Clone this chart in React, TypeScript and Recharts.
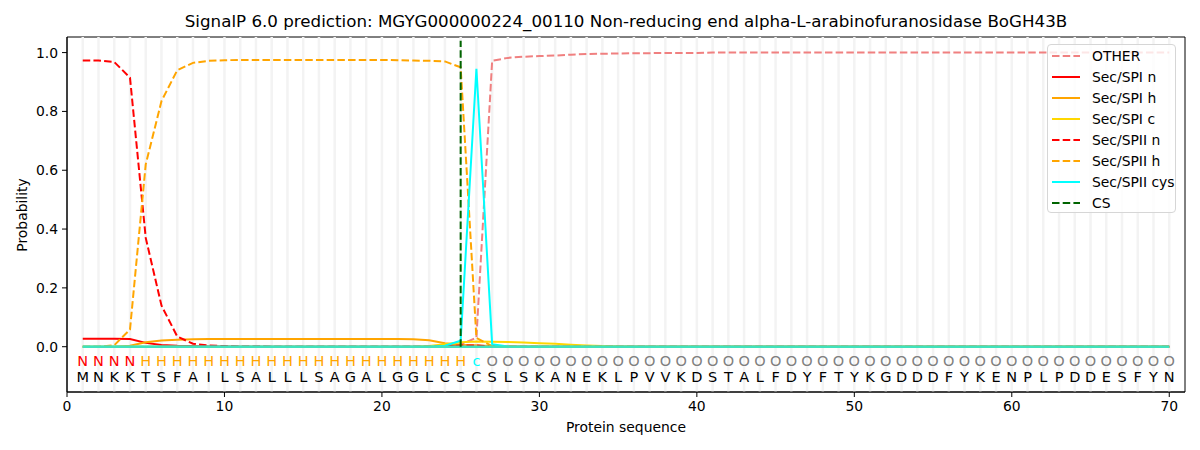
import React from 'react';
import {
  ComposedChart, Line, Scatter, XAxis, YAxis, ReferenceLine, ReferenceArea,
} from 'recharts';

// residue sequence and predicted region label per position
const SEQUENCE = 'MNKKTSFAILSALLLSAGALGGLCSCSLSKANEKLPVVKDSTALFDYFTYKGDDDFYKENPLPDDESFYN';
const REGION_LABELS = 'N'.repeat(4) + 'H'.repeat(21) + 'c' + 'O'.repeat(44);
const CS_POSITION = 25;

const xTicks = [0, 10, 20, 30, 40, 50, 60, 70];
const yTicks = [0, 0.2, 0.4, 0.6, 0.8, 1.0];

const otherVals = [
  0, 0, 0, 0, 0, 0, 0, 0, 0, 0,
  0, 0, 0, 0, 0, 0, 0, 0, 0, 0,
  0, 0, 0, 0, 0.008, 0.03, 0.972, 0.982, 0.986, 0.988,
  0.99, 0.993, 0.995, 0.996, 0.997, 0.998, 0.998, 0.999, 0.999, 0.999,
  1, 1, 1, 1, 1, 1, 1, 1, 1, 1,
  1, 1, 1, 1, 1, 1, 1, 1, 1, 1,
  1, 1, 1, 1, 1, 1, 1, 1, 1, 1,
];
const spiN = [
  0.027, 0.027, 0.027, 0.026, 0.013, 0.006, 0.003, 0.002, 0.001, 0.001,
  0, 0, 0, 0, 0, 0, 0, 0, 0, 0,
  0, 0, 0, 0.002, 0.004, 0.003, 0.001, 0, 0, 0,
  0, 0, 0, 0, 0, 0, 0, 0, 0, 0,
  0, 0, 0, 0, 0, 0, 0, 0, 0, 0,
  0, 0, 0, 0, 0, 0, 0, 0, 0, 0,
  0, 0, 0, 0, 0, 0, 0, 0, 0, 0,
];
const spiH = [
  0, 0, 0, 0.003, 0.015, 0.021, 0.024, 0.025, 0.026, 0.026,
  0.026, 0.026, 0.026, 0.026, 0.026, 0.026, 0.026, 0.026, 0.026, 0.026,
  0.026, 0.025, 0.022, 0.012, 0.006, 0.004, 0.002, 0.001, 0, 0,
  0, 0, 0, 0, 0, 0, 0, 0, 0, 0,
  0, 0, 0, 0, 0, 0, 0, 0, 0, 0,
  0, 0, 0, 0, 0, 0, 0, 0, 0, 0,
  0, 0, 0, 0, 0, 0, 0, 0, 0, 0,
];
const spiC = [
  0, 0, 0, 0, 0, 0, 0, 0, 0, 0,
  0, 0, 0, 0, 0, 0, 0, 0, 0, 0,
  0, 0, 0.002, 0.008, 0.015, 0.018, 0.017, 0.016, 0.014, 0.012,
  0.01, 0.007, 0.004, 0.002, 0.001, 0, 0, 0, 0, 0,
  0, 0, 0, 0, 0, 0, 0, 0, 0, 0,
  0, 0, 0, 0, 0, 0, 0, 0, 0, 0,
  0, 0, 0, 0, 0, 0, 0, 0, 0, 0,
];
const spiiN = [
  0.973, 0.973, 0.968, 0.915, 0.37, 0.14, 0.035, 0.01, 0.004, 0.002,
  0.001, 0.001, 0, 0, 0, 0, 0, 0, 0, 0,
  0, 0, 0, 0.002, 0.004, 0.004, 0.001, 0, 0, 0,
  0, 0, 0, 0, 0, 0, 0, 0, 0, 0,
  0, 0, 0, 0, 0, 0, 0, 0, 0, 0,
  0, 0, 0, 0, 0, 0, 0, 0, 0, 0,
  0, 0, 0, 0, 0, 0, 0, 0, 0, 0,
];
const spiiH = [
  0, 0, 0.005, 0.058, 0.62, 0.835, 0.94, 0.965, 0.972, 0.974,
  0.975, 0.975, 0.975, 0.975, 0.975, 0.975, 0.975, 0.975, 0.975, 0.975,
  0.974, 0.973, 0.972, 0.97, 0.95, 0.03, 0.002, 0, 0, 0,
  0, 0, 0, 0, 0, 0, 0, 0, 0, 0,
  0, 0, 0, 0, 0, 0, 0, 0, 0, 0,
  0, 0, 0, 0, 0, 0, 0, 0, 0, 0,
  0, 0, 0, 0, 0, 0, 0, 0, 0, 0,
];
const spiiCys = [
  0, 0, 0, 0, 0, 0, 0, 0, 0, 0,
  0, 0, 0, 0, 0, 0, 0, 0, 0, 0,
  0, 0, 0, 0.003, 0.02, 0.945, 0.008, 0.001, 0, 0,
  0, 0, 0, 0, 0, 0, 0, 0, 0, 0,
  0, 0, 0, 0, 0, 0, 0, 0, 0, 0,
  0, 0, 0, 0, 0, 0, 0, 0, 0, 0,
  0, 0, 0, 0, 0, 0, 0, 0, 0, 0,
];
// remaining (unlisted) classes, all flat at zero
const restClasses = [
  0, 0, 0, 0, 0, 0, 0, 0, 0, 0,
  0, 0, 0, 0, 0, 0, 0, 0, 0, 0,
  0, 0, 0, 0, 0, 0, 0, 0, 0, 0,
  0, 0, 0, 0, 0, 0, 0, 0, 0, 0,
  0, 0, 0, 0, 0, 0, 0, 0, 0, 0,
  0, 0, 0, 0, 0, 0, 0, 0, 0, 0,
  0, 0, 0, 0, 0, 0, 0, 0, 0, 0,
];

const DASH = '7.5 3.2';
const FONT = "'DejaVu Sans', sans-serif";

const SERIES = [
  { key: 'other', name: 'OTHER', color: '#f08080', dash: true, width: 2 },
  { key: 'spiN', name: 'Sec/SPI n', color: '#ff0000', dash: false, width: 2 },
  { key: 'spiH', name: 'Sec/SPI h', color: '#ffa500', dash: false, width: 2 },
  { key: 'spiC', name: 'Sec/SPI c', color: '#ffd700', dash: false, width: 2 },
  { key: 'spiiN', name: 'Sec/SPII n', color: '#ff0000', dash: true, width: 2 },
  { key: 'spiiH', name: 'Sec/SPII h', color: '#ffa500', dash: true, width: 2 },
  { key: 'spiiCys', name: 'Sec/SPII cys', color: '#00ffff', dash: false, width: 2 },
  { key: 'rest', name: '', color: '#40e2bc', dash: false, width: 2.5 },
];
const LEGEND = [
  ...SERIES.filter(s => s.name),
  { key: 'cs', name: 'CS', color: '#006400', dash: true, width: 2 },
];

const REGION_COLORS: Record<string, string> = {
  N: '#ff0000', H: '#ffa500', c: '#00ffff', O: '#808080',
};

const ROW_LABEL_Y = -0.048;
const ROW_AA_Y = -0.103;

const data = SEQUENCE.split('').map((aa, i) => ({
  pos: i + 1,
  other: otherVals[i],
  spiN: spiN[i],
  spiH: spiH[i],
  spiC: spiC[i],
  spiiN: spiiN[i],
  spiiH: spiiH[i],
  rest: restClasses[i],
  spiiCys: spiiCys[i],
}));

const labelPoints = data.map((d, i) => ({ pos: d.pos, y: ROW_LABEL_Y, ch: REGION_LABELS[i] }));
const aaPoints = data.map((d, i) => ({ pos: d.pos, y: ROW_AA_Y, ch: SEQUENCE[i] }));

function Letter(props: any) {
  const { cx, cy, payload, colored } = props;
  return (
    <text
      x={cx}
      y={cy}
      textAnchor="middle"
      dominantBaseline="central"
      fontFamily={FONT}
      fontSize={14.5}
      fill={colored ? REGION_COLORS[payload.ch] : '#000'}
    >
      {payload.ch}
    </text>
  );
}

export default function App() {
  return (
    <div style={{ position: 'absolute', left: 0, top: 0, width: 1200, height: 450, background: '#fff', fontFamily: FONT }}>
      <div style={{ position: 'absolute', left: 0, width: 1252, top: 11, textAlign: 'center', fontSize: 16.7 }}>
        SignalP 6.0 prediction: MGYG000000224_00110 Non-reducing end alpha-L-arabinofuranosidase BoGH43B
      </div>
      <div style={{ position: 'absolute', left: 0, width: 1252, top: 419, textAlign: 'center', fontSize: 13.9 }}>
        Protein sequence
      </div>
      <div style={{
        position: 'absolute', left: 22, top: 214.5, fontSize: 13.9, whiteSpace: 'nowrap',
        transform: 'translate(-50%, -50%) rotate(-90deg)',
      }}>
        Probability
      </div>

      <ComposedChart width={1200} height={450} data={data} margin={{ top: 37, right: 15, bottom: 13, left: 7 }}>
        <XAxis
          dataKey="pos"
          type="number"
          domain={[0, 71]}
          ticks={xTicks}
          allowDataOverflow
          tick={{ fontSize: 13.9, fill: '#000', fontFamily: FONT }}
          tickLine={{ stroke: '#000' }}
          axisLine={{ stroke: '#000' }}
          tickSize={5}
          tickMargin={4}
          height={45}
        />
        <YAxis
          type="number"
          domain={[-0.154, 1.053]}
          ticks={yTicks}
          allowDataOverflow
          tickFormatter={(v: number) => v.toFixed(1)}
          tick={{ fontSize: 13.9, fill: '#000', fontFamily: FONT }}
          tickLine={{ stroke: '#000' }}
          axisLine={{ stroke: '#000' }}
          tickSize={5}
          tickMargin={4}
          width={60}
        />
        {data.map(d => (
          <ReferenceLine key={`g${d.pos}`} x={d.pos} stroke="#f3f3f3" strokeWidth={2.5} />
        ))}
        <ReferenceArea x1={0} x2={71} y1={-0.154} y2={1.053} fill="none" stroke="#000" strokeWidth={1} />
        {SERIES.map(s => (
          <Line
            key={s.key}
            dataKey={s.key}
            type="linear"
            stroke={s.color}
            strokeWidth={s.width}
            strokeDasharray={s.dash ? DASH : undefined}
            dot={false}
            activeDot={false}
            isAnimationActive={false}
          />
        ))}
        <ReferenceLine
          segment={[{ x: CS_POSITION, y: 0 }, { x: CS_POSITION, y: 1.04 }]}
          stroke="#006400"
          strokeWidth={2}
          strokeDasharray={DASH}
        />
        <Scatter data={labelPoints} dataKey="y" isAnimationActive={false} shape={(p: any) => <Letter {...p} colored />} />
        <Scatter data={aaPoints} dataKey="y" isAnimationActive={false} shape={(p: any) => <Letter {...p} />} />
      </ComposedChart>

      <div style={{
        position: 'absolute', left: 1047, top: 44, width: 129, height: 169,
        border: '1px solid #d6d6d6', borderRadius: 4, background: 'rgba(255,255,255,0.8)',
        boxSizing: 'border-box', paddingTop: 1,
      }}>
        {LEGEND.map(item => (
          <div key={item.key} style={{ display: 'flex', alignItems: 'center', height: 20.9, fontSize: 13.9 }}>
            <svg width={44} height={10} style={{ flex: 'none' }}>
              <line
                x1={4} x2={32} y1={5} y2={5}
                stroke={item.color}
                strokeWidth={2}
                strokeDasharray={item.dash ? DASH : undefined}
              />
            </svg>
            <span>{item.name}</span>
          </div>
        ))}
      </div>
    </div>
  );
}
